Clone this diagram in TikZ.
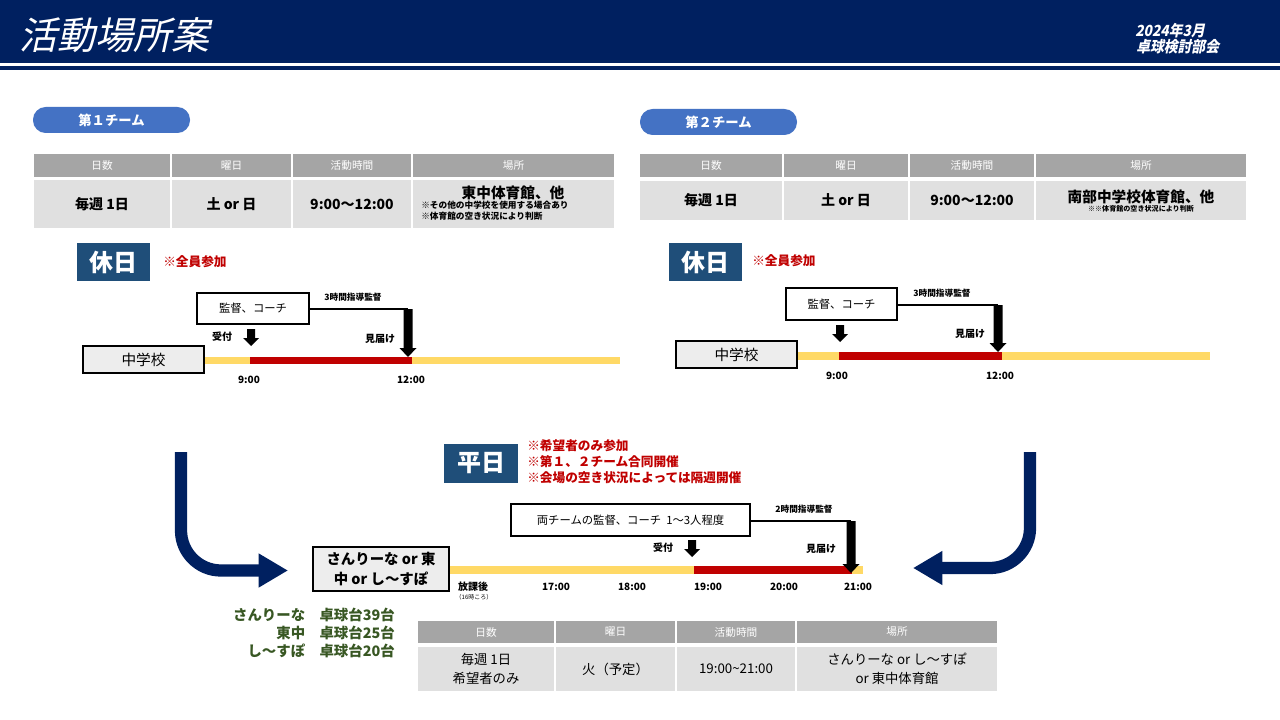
\documentclass[tikz,border=0pt]{standalone}
\usepackage{fontspec}
\setmainfont{Noto Sans CJK JP}
\newfontfamily\ttlfont[FakeSlant=0.22]{Noto Sans CJK JP}
\newfontfamily\hdrfont[FakeSlant=0.2,FakeStretch=0.9]{Noto Sans CJK JP}
\usetikzlibrary{arrows.meta,calc}
\definecolor{navy}{HTML}{002060}
\definecolor{pillblue}{HTML}{4472C4}
\definecolor{thgray}{HTML}{A5A5A5}
\definecolor{tbgray}{HTML}{E0E0E0}
\definecolor{dayblue}{HTML}{1F4E79}
\definecolor{notered}{HTML}{C00000}
\definecolor{baryellow}{HTML}{FFD966}
\definecolor{barred}{HTML}{C00000}
\definecolor{schoolgray}{HTML}{EDEDED}
\definecolor{tablegreen}{HTML}{385723}
\newcommand\fs[2]{\fontsize{#1}{#2}\selectfont}
% box node from pixel corners: style, name, x1, y1, x2, y2, text
\newcommand\cell[7]{\node[#1, minimum width={(#5-#3)*0.75pt}, minimum height={(#6-#4)*0.75pt}] (#2) at ({(#3+#5)/2},{(#4+#6)/2}) {#7};}
\newcommand\bigdown[3]{\fill (#1-4.5,#2) -- (#1+4.5,#2) -- (#1+4.5,#3-9) -- (#1+8.5,#3-9) -- (#1,#3) -- (#1-8.5,#3-9) -- (#1-4.5,#3-9) -- cycle;}
\newcommand\smalldown[3]{\fill (#1-4,#2) -- (#1+4,#2) -- (#1+4,#3-8) -- (#1+8,#3-8) -- (#1,#3) -- (#1-8,#3-8) -- (#1-4,#3-8) -- cycle;}
\tikzset{
  pill/.style={fill=pillblue, rounded corners=9.5pt, inner sep=0pt, text=white, font=\bfseries\fs{10pt}{12pt}},
  thead/.style={fill=thgray, inner sep=0pt, text=white, font=\fs{8pt}{9pt}},
  tbody/.style={fill=tbgray, inner sep=0pt, align=center, font=\bfseries\fs{10.5pt}{13pt}},
  tbodyr/.style={fill=tbgray, inner sep=0pt, align=center, font=\fs{10pt}{14pt}},
  daybox/.style={fill=dayblue, inner sep=0pt, text=white, font=\bfseries\fs{18pt}{20pt}},
  rednote/.style={text=notered, anchor=west, inner sep=0pt, align=left, font=\bfseries\fs{9.5pt}{12pt}},
  staffbox/.style={draw=black, line width=0.8pt, fill=white, inner sep=0pt, font=\fs{8.5pt}{10pt}},
  schoolbox/.style={draw=black, line width=0.8pt, fill=schoolgray, inner sep=0pt, align=center, font=\fs{11pt}{13pt}},
  lbl/.style={inner sep=0pt, font=\bfseries\fs{7.5pt}{9pt}},
  tiny/.style={inner sep=0pt, font=\bfseries\fs{6.5pt}{8pt}},
  link/.style={draw=black, line width=0.8pt},
  bigarrow/.style={draw=navy, line width=9.2pt, rounded corners=30pt, -{Triangle[length=22pt,width=24pt]}},
}
\begin{document}
\begin{tikzpicture}[x=0.75pt,y=-0.75pt]
\useasboundingbox (0,0) rectangle (1280,720);
\fill[white] (0,0) rectangle (1280,720);
% header
\fill[navy] (0,0) rectangle (1280,63);
\fill[navy] (0,66) rectangle (1280,70);
\node[anchor=west, text=white, inner sep=0pt, font=\ttlfont\fs{28.5pt}{30pt}] (title) at (19,35) {活動場所案};
\node[anchor=west, text=white, inner sep=0pt, font=\hdrfont\bfseries\fs{11.5pt}{13pt}] (date) at (1135,31) {2024年3月};
\node[anchor=west, text=white, inner sep=0pt, font=\hdrfont\bfseries\fs{11.5pt}{13pt}] (org) at (1136,47) {卓球検討部会};

% ===== Team 1 =====
\cell{pill}{p1}{33}{107}{190}{133}{第１チーム}
\cell{thead}{a1}{34}{154}{170}{177}{日数}
\cell{thead}{a2}{172}{154}{291}{177}{曜日}
\cell{thead}{a3}{293}{154}{411}{177}{活動時間}
\cell{thead}{a4}{413}{154}{614}{177}{場所}
\cell{tbody}{b1}{34}{180}{170}{228}{毎週 1日}
\cell{tbody}{b2}{172}{180}{291}{228}{土 or 日}
\cell{tbody}{b3}{293}{180}{411}{228}{9:00～12:00}
\cell{tbody}{b4}{413}{180}{614}{228}{}
\node[inner sep=0pt, font=\bfseries\fs{11pt}{12pt}] (b4t) at (513,193) {東中体育館、他};
\node[inner sep=0pt, anchor=north west, align=left, font=\bfseries\fs{6.5pt}{8pt}] (b4n) at (421,201) {※その他の中学校を使用する場合あり\\※体育館の空き状況により判断};

\cell{daybox}{h1}{77}{243}{150}{281}{休日}
\node[rednote] (h1n) at (163,262) {※全員参加};
\cell{staffbox}{s1}{197}{293}{309}{324}{監督、コーチ}
\node[tiny] (s1t) at (353,297) {3時間指導監督};
\coordinate (k1) at (408,309);
\draw[link] (s1.east |- k1) -- (k1);
\cell{schoolbox}{c1}{83}{346}{204}{373}{中学校}
\fill[baryellow] (c1.east |- 0,357) rectangle (620,364);
\fill[barred] (250,357) rectangle (412,364);
\bigdown{408}{309}{357}
\smalldown{251}{329}{346}
\node[lbl] (r1) at (222,337) {受付};
\node[lbl] (m1) at (380,339) {見届け};
\node[lbl] (t1a) at (249,380) {9:00};
\node[lbl] (t1b) at (411,380) {12:00};

% ===== Team 2 =====
\cell{pill}{p2}{640}{109}{797}{135}{第２チーム}
\cell{thead}{d1}{640}{154}{782}{177}{日数}
\cell{thead}{d2}{784}{154}{908}{177}{曜日}
\cell{thead}{d3}{910}{154}{1034}{177}{活動時間}
\cell{thead}{d4}{1036}{154}{1246}{177}{場所}
\cell{tbody}{e1}{640}{181}{782}{220}{毎週 1日}
\cell{tbody}{e2}{784}{181}{908}{220}{土 or 日}
\cell{tbody}{e3}{910}{181}{1034}{220}{9:00～12:00}
\cell{tbody}{e4}{1036}{181}{1246}{220}{}
\node[inner sep=0pt, font=\bfseries\fs{11pt}{12pt}] (e4t) at (1141,197) {南部中学校体育館、他};
\node[inner sep=0pt, font=\bfseries\fs{5.3pt}{6pt}] (e4n) at (1141,209) {※※体育館の空き状況により判断};

\cell{daybox}{h2}{669}{243}{742}{281}{休日}
\node[rednote] (h2n) at (752,261) {※全員参加};
\cell{staffbox}{s2}{786}{288}{897}{320}{監督、コーチ}
\node[tiny] (s2t) at (942,293) {3時間指導監督};
\coordinate (k2) at (998,305);
\draw[link] (s2.east |- k2) -- (k2);
\cell{schoolbox}{c2}{676}{341}{797}{368}{中学校}
\fill[baryellow] (c2.east |- 0,352) rectangle (1210,359.5);
\fill[barred] (839,352) rectangle (1002,359.5);
\bigdown{998}{305}{352}
\smalldown{840}{325}{342}
\node[lbl] (m2) at (970,334) {見届け};
\node[lbl] (t2a) at (837,376) {9:00};
\node[lbl] (t2b) at (1000,376) {12:00};

% ===== Weekday =====
\cell{daybox}{w}{444}{444}{518}{483}{平日}
\node[rednote, anchor=north west] (wn) at (527,439.5) {※希望者のみ参加\\※第１、２チーム合同開催\\※会場の空き状況によっては隔週開催};
\cell{staffbox}{s3}{511}{504}{750}{536}{両チームの監督、コーチ\ \ 1～3人程度}
\node[tiny] (s3t) at (804,509) {2時間指導監督};
\coordinate (k3) at (851,521);
\draw[link] (s3.east |- k3) -- (k3);
\cell{schoolbox, font=\bfseries\fs{10.8pt}{15pt}}{c3}{313}{547}{449}{591}{さんりーな or 東\\中 or し～すぽ}
\fill[baryellow] (c3.east |- 0,566) rectangle (863,573.5);
\fill[barred] (694,566) rectangle (852,573.5);
\bigdown{851}{521}{573}
\smalldown{692}{540}{557}
\node[lbl] (r3) at (663,548) {受付};
\node[lbl] (m3) at (821,549) {見届け};
\node[lbl] (t3a) at (473,587) {放課後};
\node[inner sep=0pt, font=\fs{4.5pt}{5pt}] (t3s) at (474,597) {（16時ころ）};
\node[lbl] (t3b) at (556,587) {17:00};
\node[lbl] (t3c) at (632,587) {18:00};
\node[lbl] (t3d) at (708,587) {19:00};
\node[lbl] (t3e) at (784,587) {20:00};
\node[lbl] (t3f) at (858,587) {21:00};

\node[anchor=north east, align=right, inner sep=0pt, text=tablegreen, font=\bfseries\fs{10.8pt}{13.5pt}] (tables) at (395,608) {さんりーな　卓球台39台\\東中　卓球台25台\\し～すぽ　卓球台20台};

\cell{thead}{f1}{418}{621}{554}{643}{日数}
\cell{thead}{f2}{556}{621}{675}{643}{曜日}
\cell{thead}{f3}{677}{621}{795}{643}{活動時間}
\cell{thead}{f4}{797}{621}{997}{643}{場所}
\cell{tbodyr}{g1}{418}{647}{554}{691}{毎週 1日\\希望者のみ}
\cell{tbodyr}{g2}{556}{647}{675}{691}{火（予定）}
\cell{tbodyr}{g3}{677}{647}{795}{691}{19:00{\char`\~}21:00}
\cell{tbodyr}{g4}{797}{647}{997}{691}{さんりーな or し～すぽ\\or 東中体育館}

% curved arrows
\draw[bigarrow] (181,452) |- (288,570.5);
\draw[bigarrow] (1030,452) |- (913,568);
\end{tikzpicture}
\end{document}
